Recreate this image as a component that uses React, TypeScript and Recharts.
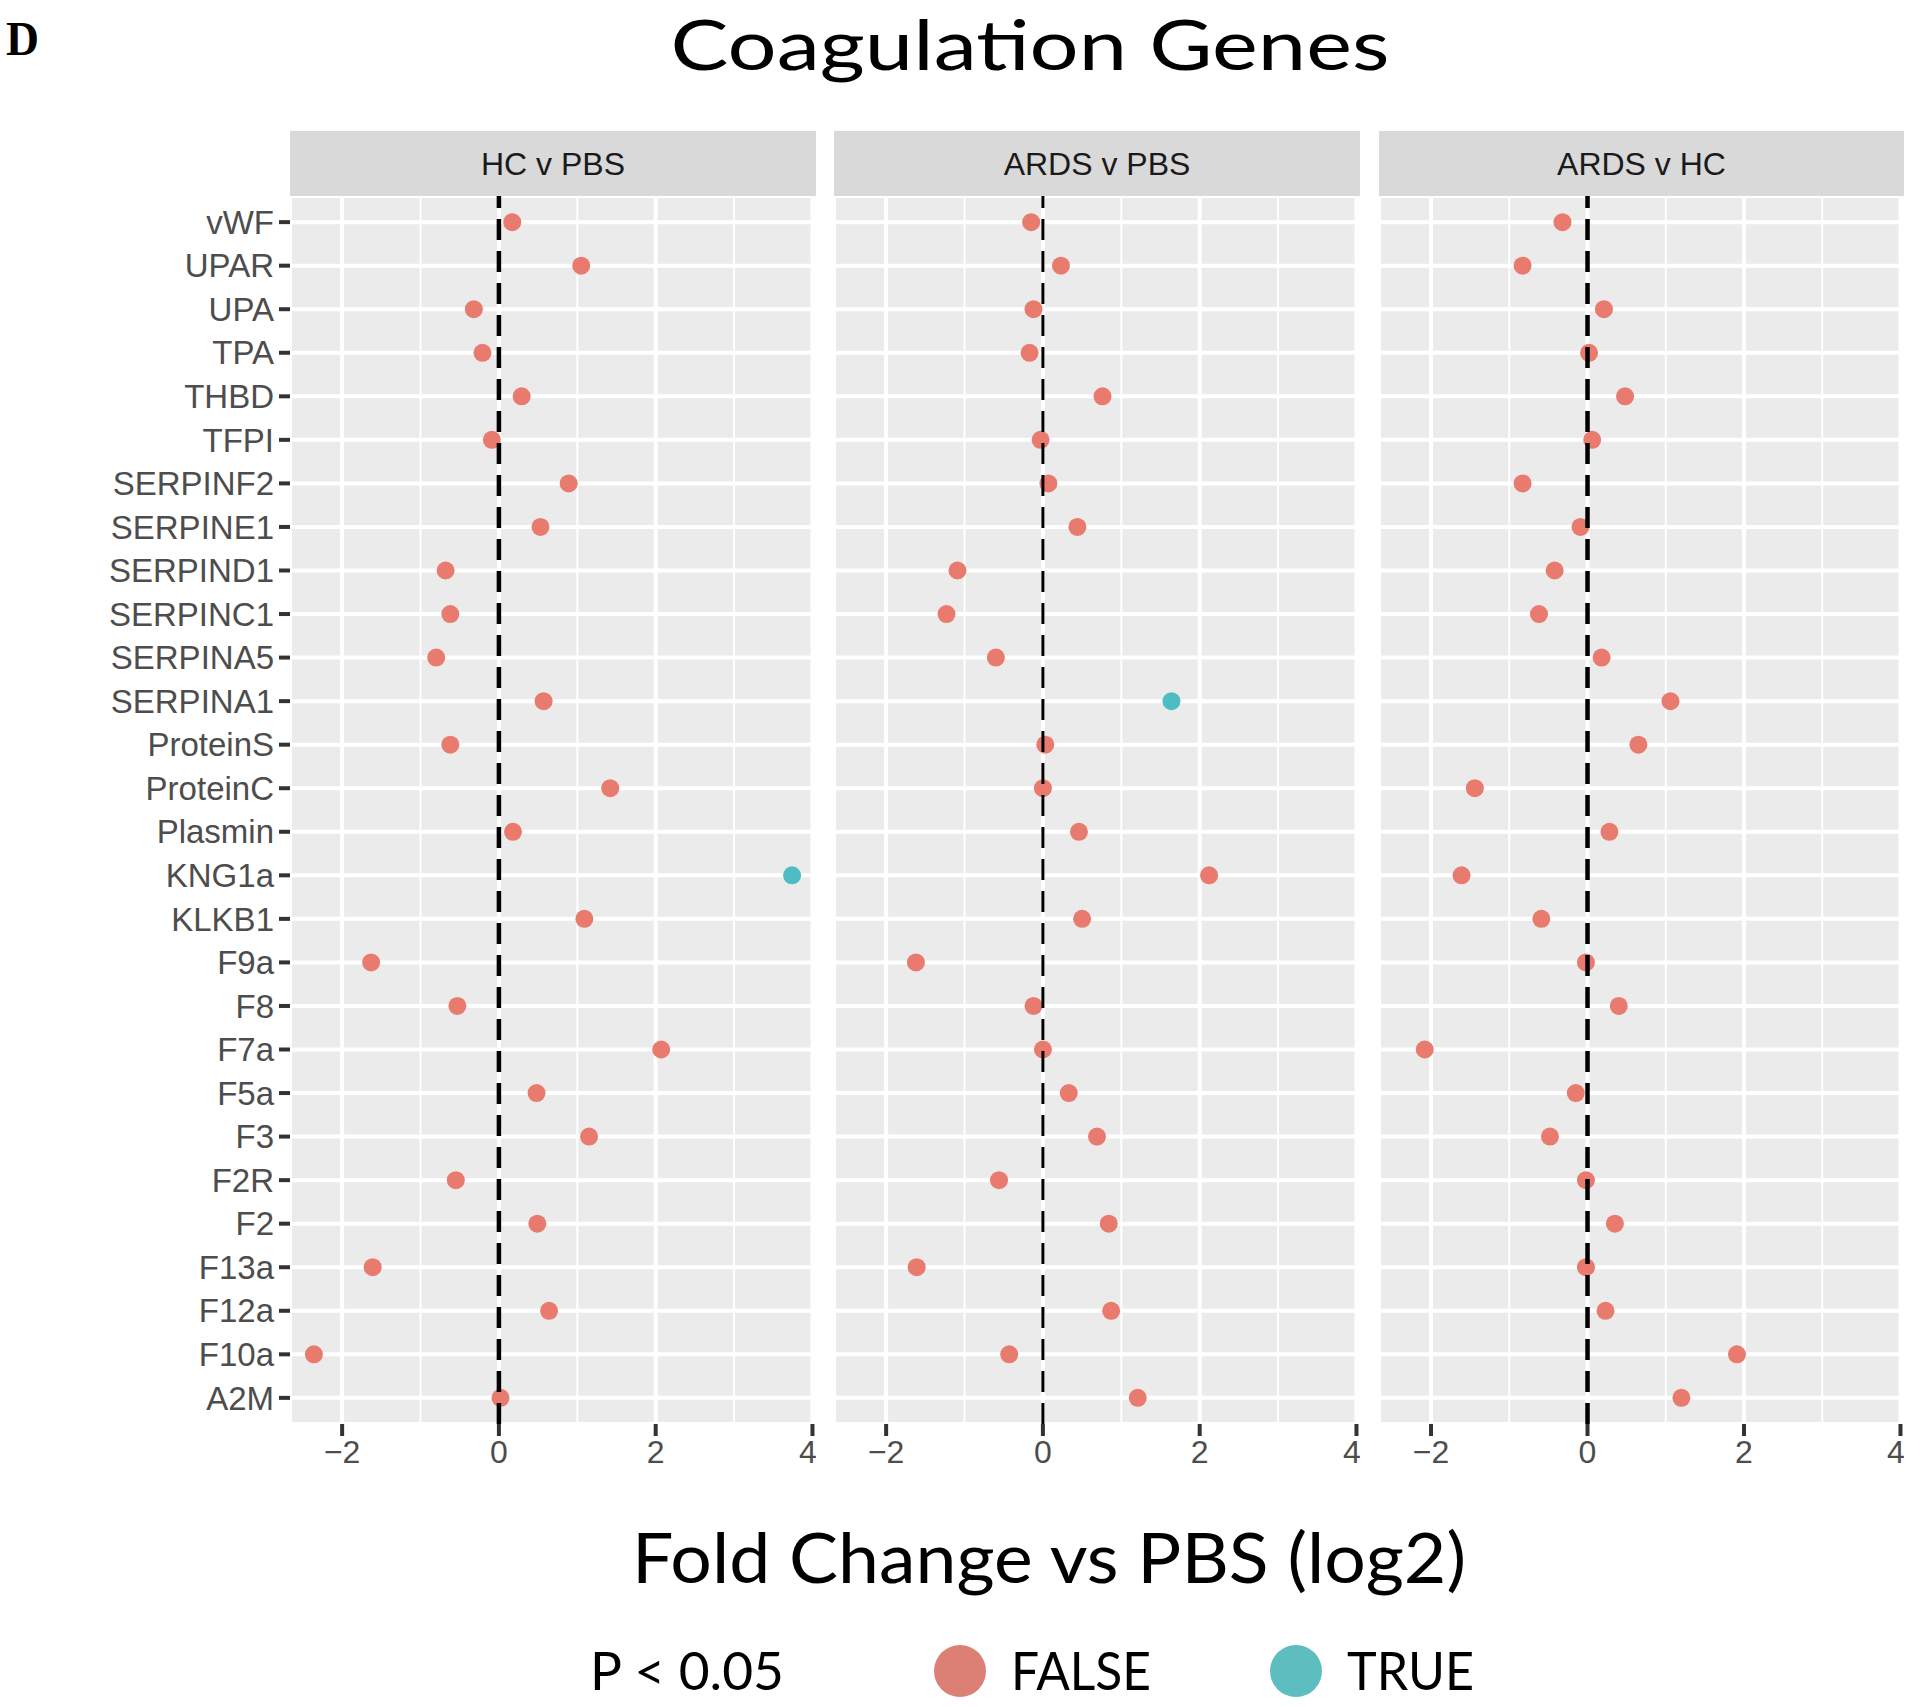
import React from 'react';
import { ScatterChart, Scatter, XAxis, YAxis, CartesianGrid, ReferenceLine } from 'recharts';

// genes, top to bottom
const genes = [
  'vWF', 'UPAR', 'UPA', 'TPA', 'THBD', 'TFPI', 'SERPINF2', 'SERPINE1', 'SERPIND1', 'SERPINC1',
  'SERPINA5', 'SERPINA1', 'ProteinS', 'ProteinC', 'Plasmin', 'KNG1a', 'KLKB1', 'F9a', 'F8', 'F7a',
  'F5a', 'F3', 'F2R', 'F2', 'F13a', 'F12a', 'F10a', 'A2M',
];

const comparisons = ['HC v PBS', 'ARDS v PBS', 'ARDS v HC'];

// log2 fold change, same order as genes
const hcVsPbs = [
  0.17, 1.05, -0.32, -0.21, 0.29, -0.09, 0.89, 0.53, -0.68, -0.62,
  -0.8, 0.57, -0.62, 1.42, 0.18, 3.74, 1.09, -1.63, -0.53, 2.07,
  0.48, 1.15, -0.55, 0.49, -1.61, 0.64, -2.36, 0.02,
];
const ardsVsPbs = [
  -0.15, 0.23, -0.12, -0.17, 0.76, -0.03, 0.07, 0.44, -1.09, -1.23,
  -0.6, 1.64, 0.03, 0.0, 0.46, 2.12, 0.5, -1.62, -0.12, 0.0,
  0.33, 0.69, -0.56, 0.84, -1.61, 0.87, -0.43, 1.21,
];
const ardsVsHc = [
  -0.32, -0.83, 0.21, 0.02, 0.48, 0.06, -0.83, -0.09, -0.42, -0.62,
  0.18, 1.06, 0.65, -1.44, 0.28, -1.61, -0.59, -0.02, 0.4, -2.08,
  -0.15, -0.48, -0.02, 0.35, -0.02, 0.23, 1.91, 1.2,
];

// genes with P < 0.05 in each comparison
const sigHcVsPbs = ['KNG1a'];
const sigArdsVsPbs = ['SERPINA1'];
const sigArdsVsHc: string[] = [];

const xTicks = [-2, 0, 2, 4];
const xMinor = [-1, 1, 3];
const xDomain = [-2.665, 4.045];
const yTicks = genes.map((_, i) => i);

const RED = '#E97A6E';
const TEAL = '#4DBDC3';
const SANS = "'Liberation Sans', Arial, sans-serif";
const CAL = "Lato, 'Open Sans', sans-serif";

const PLOT_TOP = 196;
const PLOT_BOTTOM = 1424;
const Y_AXIS_W = 290;

const panelLayout = [
  { left: 290, width: 526, dash: 4.5 },
  { left: 834, width: 526, dash: 3 },
  { left: 1379, width: 525, dash: 4.5 },
];

const panelValues = [hcVsPbs, ardsVsPbs, ardsVsHc];
const panelSig = [sigHcVsPbs, sigArdsVsPbs, sigArdsVsHc];

const fmtX = (v: number) => (v < 0 ? '\u2212' + Math.abs(v) : String(v));

const Dot = (props: any) => {
  const { cx, cy, payload } = props;
  if (cx == null || cy == null) return null;
  return <circle cx={cx} cy={cy} r={9} fill={payload.sig ? TEAL : RED} />;
};

function Panel({ idx }: { idx: number }) {
  const lay = panelLayout[idx];
  const showY = idx === 0;
  const data = genes.map((g, i) => ({ x: panelValues[idx][i], y: i, sig: panelSig[idx].includes(g) }));
  const chartLeft = showY ? lay.left - Y_AXIS_W : lay.left;
  const chartWidth = showY ? lay.width + Y_AXIS_W : lay.width;
  const xAxisH = 60;

  return (
    <div style={{ position: 'absolute', left: chartLeft, top: 0 }}>
      <ScatterChart
        width={chartWidth}
        height={PLOT_BOTTOM + xAxisH}
        margin={{ top: PLOT_TOP, right: 0, bottom: 0, left: 0 }}
      >
        <CartesianGrid fill="#EBEBEB" stroke="#FFFFFF" strokeWidth={4} />
        <XAxis
          type="number"
          dataKey="x"
          domain={xDomain}
          ticks={xTicks}
          allowDataOverflow
          tickFormatter={fmtX}
          axisLine={false}
          tickSize={12}
          tickMargin={4}
          tickLine={{ stroke: '#333333', strokeWidth: 4 }}
          tick={{ fill: '#4D4D4D', fontSize: 32, fontFamily: SANS }}
          height={xAxisH}
        />
        <YAxis
          type="number"
          dataKey="y"
          domain={[-0.6, 27.6]}
          ticks={yTicks}
          interval={0}
          reversed
          hide={!showY}
          width={Y_AXIS_W}
          tickFormatter={(i: number) => genes[i]}
          axisLine={false}
          tickSize={11}
          tickMargin={5}
          tickLine={{ stroke: '#333333', strokeWidth: 4 }}
          tick={{ fill: '#4D4D4D', fontSize: 33, fontFamily: SANS }}
        />
        {xMinor.map((m) => (
          <ReferenceLine key={m} x={m} stroke="#FFFFFF" strokeWidth={2} zIndex={-50} />
        ))}
        <Scatter data={data} shape={<Dot />} isAnimationActive={false} />
        <ReferenceLine x={0} stroke="#000000" strokeWidth={lay.dash} strokeDasharray="21 11" zIndex={700} />
      </ScatterChart>
    </div>
  );
}

export default function App() {
  return (
    <div style={{ position: 'absolute', left: 0, top: 0, width: 1920, height: 1707, background: '#FFFFFF', overflow: 'hidden' }}>
      {comparisons.map((_, i) => (
        <Panel key={i} idx={i} />
      ))}
      <svg width={1920} height={1707} style={{ position: 'absolute', left: 0, top: 0, pointerEvents: 'none' }}>
        <text x={6} y={55} fontFamily="'Liberation Serif', 'Times New Roman', serif" fontWeight="bold" fontSize={48} textLength={33} lengthAdjust="spacingAndGlyphs" fill="#000">
          D
        </text>
        <text x={1030} y={70} textAnchor="middle" fontFamily={CAL} fontSize={70} textLength={719} lengthAdjust="spacingAndGlyphs" fill="#000">
          Coagulation Genes
        </text>
        {comparisons.map((c, i) => {
          const lay = panelLayout[i];
          return (
            <g key={c}>
              <rect x={lay.left} y={131} width={lay.width} height={65} fill="#D9D9D9" />
              <text x={lay.left + lay.width / 2} y={164} textAnchor="middle" dominantBaseline="central" fontFamily={SANS} fontSize={32} fill="#1A1A1A">
                {c}
              </text>
            </g>
          );
        })}
        <text x={1049} y={1583} textAnchor="middle" fontFamily={CAL} fontSize={70} textLength={834} lengthAdjust="spacingAndGlyphs" fill="#000">
          Fold Change vs PBS (log2)
        </text>
        <text x={590} y={1690} fontFamily={CAL} fontSize={53} textLength={194} lengthAdjust="spacingAndGlyphs" fill="#000">
          P &lt; 0.05
        </text>
        <circle cx={960} cy={1671} r={26} fill="#DC8076" />
        <text x={1011} y={1690} fontFamily={CAL} fontSize={53} textLength={140} lengthAdjust="spacingAndGlyphs" fill="#000">
          FALSE
        </text>
        <circle cx={1296} cy={1671} r={26} fill="#5DBDBF" />
        <text x={1347} y={1690} fontFamily={CAL} fontSize={53} textLength={127} lengthAdjust="spacingAndGlyphs" fill="#000">
          TRUE
        </text>
      </svg>
    </div>
  );
}
